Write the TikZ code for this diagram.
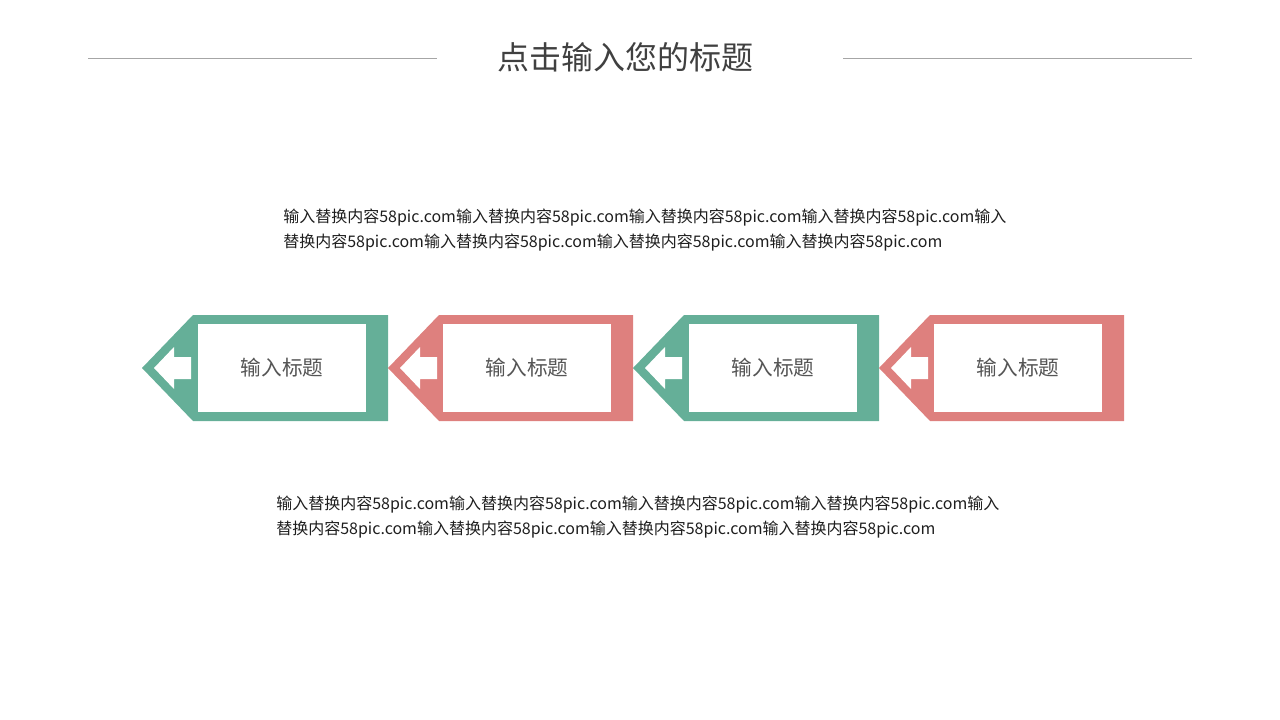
\documentclass[tikz,border=0pt]{standalone}
\usepackage{fontspec}
\setmainfont{Noto Sans CJK SC}
\usetikzlibrary{positioning}
\definecolor{tagGreen}{RGB}{101,175,152}
\definecolor{tagRed}{RGB}{222,128,126}
\definecolor{titleGray}{RGB}{64,64,64}
\definecolor{ruleGray}{RGB}{166,166,166}
\definecolor{labelGray}{RGB}{85,85,85}
\definecolor{bodyBlack}{RGB}{30,30,30}

\begin{document}
\begin{tikzpicture}[x=0.75pt,y=-0.75pt]
\tikzstyle{every node}+=[inner sep=0pt]
\tikzstyle{tag label}=[font=\fontsize{15.5}{18}\selectfont, text=labelGray]
\tikzstyle{body text}=[font=\fontsize{12}{18.75}\selectfont, text=bodyBlack, align=left, anchor=west]
\useasboundingbox (0,0) rectangle (1280,720);
% title and rules
\draw (625,57) node [font=\fontsize{24}{28}\selectfont, text=titleGray] (title) {点击输入您的标题};
\draw [ruleGray, line width=0.75pt] (88,59) -- (437,59);
\draw [ruleGray, line width=0.75pt] (843,59) -- (1192,59);
% upper text
\draw (283,230) node [body text] (upper) {输入替换内容58pic.com输入替换内容58pic.com输入替换内容58pic.com输入替换内容58pic.com输入\\替换内容58pic.com输入替换内容58pic.com输入替换内容58pic.com输入替换内容58pic.com};
% tag 1
\fill [tagGreen] (142,368) -- (193,315) -- (388,315) -- (388,421) -- (193,421) -- cycle;
\fill [white] (198,324) rectangle (366,412);
\fill [white] (154,368) -- (174,347) -- (174,357) -- (191,357) -- (191,379) -- (174,379) -- (174,389) -- cycle;
\draw (282,368) node [tag label] (label1) {输入标题};
% tag 2
\fill [tagRed] (388,368) -- (439,315) -- (633,315) -- (633,421) -- (439,421) -- cycle;
\fill [white] (443,324) rectangle (611,412);
\fill [white] (400,368) -- (420,347) -- (420,357) -- (437,357) -- (437,379) -- (420,379) -- (420,389) -- cycle;
\draw (527,368) node [tag label] (label2) {输入标题};
% tag 3
\fill [tagGreen] (633,368) -- (684,315) -- (879,315) -- (879,421) -- (684,421) -- cycle;
\fill [white] (689,324) rectangle (857,412);
\fill [white] (645,368) -- (665,347) -- (665,357) -- (682,357) -- (682,379) -- (665,379) -- (665,389) -- cycle;
\draw (773,368) node [tag label] (label3) {输入标题};
% tag 4
\fill [tagRed] (879,368) -- (930,315) -- (1124,315) -- (1124,421) -- (930,421) -- cycle;
\fill [white] (934,324) rectangle (1102,412);
\fill [white] (891,368) -- (911,347) -- (911,357) -- (928,357) -- (928,379) -- (911,379) -- (911,389) -- cycle;
\draw (1018,368) node [tag label] (label4) {输入标题};
% lower text
\draw (276,517) node [body text] (lower) {输入替换内容58pic.com输入替换内容58pic.com输入替换内容58pic.com输入替换内容58pic.com输入\\替换内容58pic.com输入替换内容58pic.com输入替换内容58pic.com输入替换内容58pic.com};
\end{tikzpicture}
\end{document}
